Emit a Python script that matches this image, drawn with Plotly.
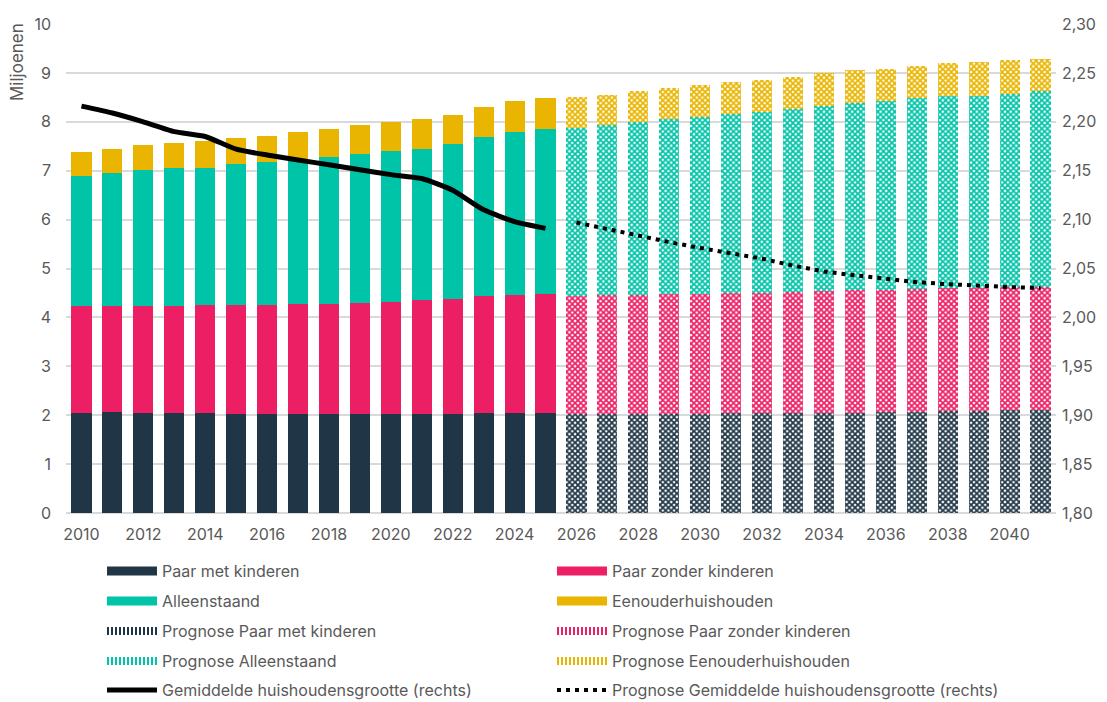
import plotly.graph_objects as go

years_hist = list(range(2010, 2026))
years_prog = list(range(2026, 2042))

# Historic segments (miljoenen)
paar_met_hist = [2.04, 2.06, 2.04, 2.04, 2.04, 2.02, 2.02, 2.02, 2.02, 2.02, 2.02, 2.02, 2.02, 2.04, 2.04, 2.04]
paar_zonder_hist = [2.20, 2.18, 2.20, 2.20, 2.22, 2.24, 2.24, 2.26, 2.26, 2.28, 2.30, 2.34, 2.36, 2.40, 2.42, 2.44]
alleen_hist = [2.65, 2.71, 2.77, 2.81, 2.79, 2.87, 2.91, 2.93, 3.00, 3.04, 3.08, 3.08, 3.16, 3.25, 3.33, 3.37]
eenouder_hist = [0.49, 0.49, 0.51, 0.51, 0.55, 0.53, 0.54, 0.58, 0.57, 0.59, 0.59, 0.61, 0.59, 0.62, 0.63, 0.63]

# Forecast segments (miljoenen)
paar_met_prog = [2.03, 2.03, 2.03, 2.03, 2.03, 2.04, 2.04, 2.04, 2.05, 2.05, 2.06, 2.07, 2.08, 2.09, 2.10, 2.11]
paar_zonder_prog = [2.41, 2.42, 2.43, 2.44, 2.45, 2.45, 2.46, 2.48, 2.49, 2.51, 2.51, 2.51, 2.52, 2.52, 2.52, 2.52]
alleen_prog = [3.44, 3.48, 3.53, 3.58, 3.62, 3.66, 3.70, 3.74, 3.78, 3.82, 3.86, 3.91, 3.93, 3.92, 3.95, 3.99]
eenouder_prog = [0.62, 0.62, 0.65, 0.64, 0.65, 0.66, 0.66, 0.66, 0.67, 0.67, 0.66, 0.66, 0.67, 0.70, 0.69, 0.66]

# Average household size (right axis)
gem_hist = [2.216, 2.209, 2.200, 2.190, 2.185, 2.172, 2.166, 2.161, 2.156, 2.151, 2.146, 2.142, 2.130, 2.110, 2.098, 2.091]
gem_prog = [2.097, 2.090, 2.083, 2.077, 2.071, 2.066, 2.060, 2.053, 2.047, 2.043, 2.039, 2.036, 2.034, 2.032, 2.031, 2.030]

x_ticks = list(range(2010, 2041, 2))
x_ticktext = [str(v) for v in x_ticks]
y2_ticks = [1.80, 1.85, 1.90, 1.95, 2.00, 2.05, 2.10, 2.15, 2.20, 2.25, 2.30]

C_DARK = "#203646"
C_PINK = "#EC1F65"
C_TEAL = "#00C4A7"
C_YEL = "#E9B500"
TXT = "#595959"
FONT = "Inter"
FS = 16

fig = go.Figure()

series = [
    ("Paar met kinderen", "Prognose Paar met kinderen", paar_met_hist, paar_met_prog, C_DARK),
    ("Paar zonder kinderen", "Prognose Paar zonder kinderen", paar_zonder_hist, paar_zonder_prog, C_PINK),
    ("Alleenstaand", "Prognose Alleenstaand", alleen_hist, alleen_prog, C_TEAL),
    ("Eenouderhuishouden", "Prognose Eenouderhuishouden", eenouder_hist, eenouder_prog, C_YEL),
]

for name_h, name_p, vh, vp, col in series:
    fig.add_trace(go.Bar(
        x=years_hist, y=vh, name=name_h, marker=dict(color=col, line=dict(width=0)),
        showlegend=False,
    ))
    fig.add_trace(go.Bar(
        x=years_prog, y=vp, name=name_p,
        marker=dict(color=col, line=dict(width=0),
                    pattern=dict(shape="x", size=4, solidity=0.68, fgcolor=col, bgcolor="white", fillmode="replace")),
        showlegend=False,
    ))

fig.add_trace(go.Scatter(
    x=years_hist, y=gem_hist, yaxis="y2", mode="lines", name="Gemiddelde huishoudensgrootte (rechts)",
    line=dict(color="black", width=5, shape="spline", smoothing=0.5), showlegend=False,
))
fig.add_trace(go.Scatter(
    x=years_prog, y=gem_prog, yaxis="y2", mode="lines", name="Prognose Gemiddelde huishoudensgrootte (rechts)",
    line=dict(color="black", width=4, dash="4px,5px"), showlegend=False,
))

# Legend entries (no marks drawn: empty data), one legend per row
legend_rows = [
    [("Paar met kinderen", C_DARK, "solid", 9), ("Paar zonder kinderen", C_PINK, "solid", 9)],
    [("Alleenstaand", C_TEAL, "solid", 9), ("Eenouderhuishouden", C_YEL, "solid", 9)],
    [("Prognose Paar met kinderen", C_DARK, "2px,2px", 8), ("Prognose Paar zonder kinderen", C_PINK, "2px,2px", 8)],
    [("Prognose Alleenstaand", C_TEAL, "2px,2px", 8), ("Prognose Eenouderhuishouden", C_YEL, "2px,2px", 8)],
    [("Gemiddelde huishoudensgrootte (rechts)", "black", "solid", 5),
     ("Prognose Gemiddelde huishoudensgrootte (rechts)", "black", "4px,5px", 4)],
]
legend_ids = ["legend", "legend2", "legend3", "legend4", "legend5"]
for lid, row in zip(legend_ids, legend_rows):
    for nm, col, dash, w in row:
        fig.add_trace(go.Scatter(
            x=[None], y=[None], mode="lines", name=nm, legend=lid,
            line=dict(color=col, width=w, dash=dash), showlegend=True,
        ))

# The page body has an 8px margin: figure coords = page coords - 8
OFF = 8
W, H = 1107 - OFF, 702 - OFF
plot_left, plot_right = 66 - OFF, 1056 - OFF
plot_top, plot_bot = 24 - OFF, 513 - OFF
pw = plot_right - plot_left
ph = plot_bot - plot_top

row_px = [571, 601, 631, 661, 690]
layout_legends = {}
for lid, py in zip(legend_ids, row_px):
    layout_legends[lid] = dict(
        orientation="h", x=(102 - 66) / pw, xanchor="left",
        y=(plot_bot - (py - OFF)) / ph, yanchor="middle",
        entrywidth=385, entrywidthmode="pixels", itemwidth=50, traceorder="normal",
        font=dict(size=FS, color=TXT, family=FONT), bgcolor="rgba(0,0,0,0)",
    )

fig.update_layout(
    width=W, height=H,
    barmode="stack", bargap=0.35,
    paper_bgcolor="white", plot_bgcolor="white",
    separators=",.",
    font=dict(family=FONT, size=FS, color=TXT),
    margin=dict(l=plot_left, r=W - plot_right, t=plot_top, b=H - plot_bot, autoexpand=False),
    xaxis=dict(range=[2009.5, 2041.5], tickmode="array", tickvals=x_ticks, ticktext=x_ticktext,
               showgrid=False, zeroline=False, showline=False, ticks="", ticklabelstandoff=10,
               tickfont=dict(size=FS, color=TXT, family=FONT), automargin=False),
    yaxis=dict(range=[0, 10], dtick=1, showgrid=True, gridcolor="#D9D9D9", gridwidth=1.5,
               zeroline=True, zerolinecolor="#D9D9D9", zerolinewidth=1.5, automargin=False,
               ticks="", ticklabelstandoff=14, tickfont=dict(size=FS, color=TXT, family=FONT)),
    yaxis2=dict(range=[1.80, 2.30], overlaying="y", side="right", tickmode="array", tickvals=y2_ticks,
                tickformat=".2f", showgrid=False, zeroline=False, ticks="", ticklabelstandoff=5,
                automargin=False, tickfont=dict(size=FS, color=TXT, family=FONT)),
    annotations=[dict(text="Miljoenen", textangle=-90, xref="paper", yref="paper",
                      x=(17 - 66) / pw, y=(plot_bot - (21 - OFF)) / ph,
                      xanchor="center", yanchor="top", showarrow=False,
                      font=dict(size=17, color=TXT, family=FONT))],
    **layout_legends,
)

fig.write_html("out.html")
